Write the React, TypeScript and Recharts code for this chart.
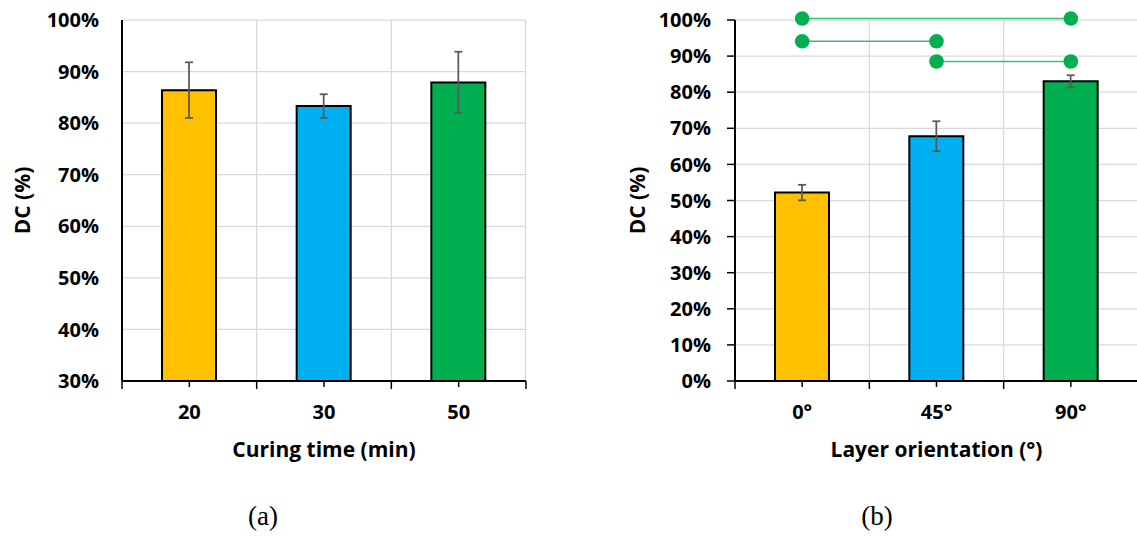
import React from "react";
import { BarChart, Bar, XAxis, YAxis, CartesianGrid, Cell, ErrorBar, ReferenceLine, ReferenceDot } from "recharts";

// (a) curing time
const CURING_TIMES = ["20", "30", "50"];
const CURING_DC = [86.4, 83.3, 87.9];
const CURING_ERR = [5.4, 2.3, 5.95];
const TICKS_A = [30, 40, 50, 60, 70, 80, 90, 100];

// (b) layer orientation
const ORIENTATIONS = ["0°", "45°", "90°"];
const ORIENT_DC = [52.2, 67.8, 83.0];
const ORIENT_ERR = [2.15, 4.15, 1.7];
const TICKS_B = [0, 10, 20, 30, 40, 50, 60, 70, 80, 90, 100];

// significance brackets in (b)
const SIG_FROM = ["0°", "0°", "45°"];
const SIG_TO = ["90°", "45°", "90°"];
const SIG_LEVEL = [100.4, 94.1, 88.5];

const BAR_COLORS = ["#FFC000", "#00B0F0", "#00B050"];

const FONT = '"Open Sans", sans-serif';
const GRID = "#d9d9d9";
const TOP = 20;
const BOTTOM = 381;
const CHART_H = 480;
const X_AXIS_H = CHART_H - BOTTOM;

// chart a: plot 122..526
const A_W = 540;
const A_LEFT = 122;
const A_RIGHT = 526;
const A_BW = (A_RIGHT - A_LEFT) / 3;

// chart b: placed at x=600, plot 735..1138 (cut off by the page edge)
const B_OFFSET = 600;
const B_W = 560;
const B_LEFT = 135;
const B_RIGHT = 538;
const B_BW = (B_RIGHT - B_LEFT) / 3;

const tickStyle = { fontSize: 20, fontWeight: 700, fill: "#000", fontFamily: FONT };

function makeXTick(bw: number, last: string) {
  return (props: any) => {
    const { x, payload } = props;
    return (
      <g>
        <line x1={x} x2={x} y1={BOTTOM} y2={BOTTOM + 6} stroke="#000" strokeWidth={1.5} />
        <line x1={x - bw / 2} x2={x - bw / 2} y1={BOTTOM} y2={BOTTOM + 8} stroke="#000" strokeWidth={1.5} />
        {payload.value === last && (
          <line x1={x + bw / 2} x2={x + bw / 2} y1={BOTTOM} y2={BOTTOM + 8} stroke="#000" strokeWidth={1.5} />
        )}
        <text x={x} y={BOTTOM + 38} textAnchor="middle" {...tickStyle}>
          {payload.value}
        </text>
      </g>
    );
  };
}

function yTitle(bx: number) {
  return () => (
    <text
      transform={`translate(${bx},${(TOP + BOTTOM) / 2}) rotate(-90)`}
      textAnchor="middle"
      fontSize={21}
      fontWeight={700}
      fill="#000"
      fontFamily={FONT}
    >
      DC (%)
    </text>
  );
}

function xTitle(cx: number, text: string) {
  return () => (
    <text x={cx} y={457} textAnchor="middle" fontSize={21} fontWeight={700} fill="#000" fontFamily={FONT}>
      {text}
    </text>
  );
}

function CuringChart() {
  const data = CURING_TIMES.map((c, i) => ({ name: c, dc: CURING_DC[i], err: CURING_ERR[i] }));
  return (
    <BarChart width={A_W} height={CHART_H} data={data} margin={{ top: TOP, right: A_W - A_RIGHT, left: 0, bottom: 0 }}>
      <CartesianGrid
        stroke={GRID}
        strokeWidth={1.25}
        verticalCoordinatesGenerator={() => [A_LEFT + A_BW, A_LEFT + 2 * A_BW, A_RIGHT - 0.5]}
      />
      <XAxis
        dataKey="name"
        height={X_AXIS_H}
        axisLine={{ stroke: "#000", strokeWidth: 2 }}
        tickLine={false}
        tickSize={0}
        tickMargin={0}
        interval={0}
        tick={makeXTick(A_BW, CURING_TIMES[CURING_TIMES.length - 1])}
        label={xTitle((A_LEFT + A_RIGHT) / 2, "Curing time (min)")}
      />
      <YAxis
        width={A_LEFT}
        domain={[30, 100]}
        ticks={TICKS_A}
        interval={0}
        tickFormatter={(v: number) => `${v}%`}
        axisLine={{ stroke: "#000", strokeWidth: 2 }}
        tickLine={false}
        tickSize={8}
        tickMargin={15}
        tick={tickStyle}
        label={yTitle(30)}
      />
      <Bar dataKey="dc" barSize={54} stroke="#000" strokeWidth={2} isAnimationActive={false}>
        {data.map((d, i) => (
          <Cell key={d.name} fill={BAR_COLORS[i]} />
        ))}
        <ErrorBar dataKey="err" width={4} stroke="#595959" strokeWidth={1.75} isAnimationActive={false} />
      </Bar>
    </BarChart>
  );
}

function OrientationChart() {
  const data = ORIENTATIONS.map((o, i) => ({ name: o, dc: ORIENT_DC[i], err: ORIENT_ERR[i] }));
  return (
    <BarChart width={B_W} height={CHART_H} data={data} margin={{ top: TOP, right: B_W - B_RIGHT, left: 0, bottom: 0 }}>
      <CartesianGrid
        stroke={GRID}
        strokeWidth={1.25}
        verticalCoordinatesGenerator={() => [B_LEFT + B_BW, B_LEFT + 2 * B_BW, B_RIGHT]}
      />
      <XAxis
        dataKey="name"
        height={X_AXIS_H}
        axisLine={{ stroke: "#000", strokeWidth: 2 }}
        tickLine={false}
        tickSize={0}
        tickMargin={0}
        interval={0}
        tick={makeXTick(B_BW, ORIENTATIONS[ORIENTATIONS.length - 1])}
        label={xTitle((B_LEFT + B_RIGHT) / 2, "Layer orientation (°)")}
      />
      <YAxis
        width={B_LEFT}
        domain={[0, 100]}
        ticks={TICKS_B}
        interval={0}
        tickFormatter={(v: number) => `${v}%`}
        axisLine={{ stroke: "#000", strokeWidth: 2 }}
        tickLine={{ stroke: "#000", strokeWidth: 1.5 }}
        tickSize={8}
        tickMargin={16}
        tick={tickStyle}
        label={yTitle(44.5)}
      />
      <Bar dataKey="dc" barSize={54} stroke="#000" strokeWidth={2} isAnimationActive={false}>
        {data.map((d, i) => (
          <Cell key={d.name} fill={BAR_COLORS[i]} />
        ))}
        <ErrorBar dataKey="err" width={4} stroke="#595959" strokeWidth={1.75} isAnimationActive={false} />
      </Bar>
      {SIG_LEVEL.map((lv, i) => (
        <ReferenceLine
          key={`l${i}`}
          segment={[
            { x: SIG_FROM[i], y: lv },
            { x: SIG_TO[i], y: lv },
          ]}
          stroke="#3cbf6e"
          strokeWidth={1.5}
          ifOverflow="visible"
        />
      ))}
      {SIG_LEVEL.flatMap((lv, i) => [
        <ReferenceDot key={`a${i}`} x={SIG_FROM[i]} y={lv} r={7.3} fill="#00B050" stroke="none" ifOverflow="visible" />,
        <ReferenceDot key={`b${i}`} x={SIG_TO[i]} y={lv} r={7.3} fill="#00B050" stroke="none" ifOverflow="visible" />,
      ])}
    </BarChart>
  );
}

export default function App() {
  return (
    <div
      style={{
        position: "absolute",
        left: 0,
        top: 0,
        width: 1137,
        height: 537,
        overflow: "hidden",
        background: "#fff",
        fontFamily: FONT,
      }}
    >
      <div style={{ position: "absolute", left: 0, top: 0 }}>
        <CuringChart />
      </div>
      <div style={{ position: "absolute", left: B_OFFSET, top: 0 }}>
        <OrientationChart />
      </div>
      <svg width={1137} height={537} style={{ position: "absolute", left: 0, top: 0, pointerEvents: "none" }}>
        <text x={263} y={525} textAnchor="middle" fontSize={27} fontFamily='"Liberation Serif", serif' fill="#000">
          (a)
        </text>
        <text x={877} y={525} textAnchor="middle" fontSize={27} fontFamily='"Liberation Serif", serif' fill="#000">
          (b)
        </text>
      </svg>
    </div>
  );
}
